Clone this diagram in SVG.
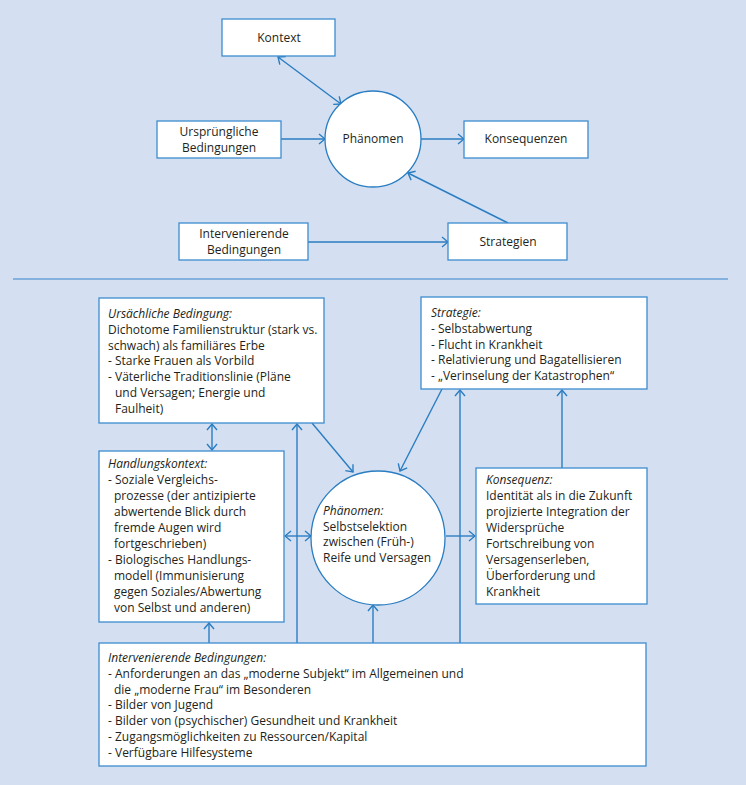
<svg xmlns="http://www.w3.org/2000/svg" width="746" height="785" viewBox="0 0 746 785">
<style>
.box{fill:#fff;stroke:#3d8dcf;stroke-width:1.3}
.con{fill:none;stroke:#2a7dc2;stroke-width:1.4}
text{font-family:"Open Sans","Noto Sans","Liberation Sans",sans-serif;font-size:12px;fill:#231f20}
.c{text-anchor:middle}
.i{font-style:italic}
</style>
<defs>
<marker id="ah" viewBox="0 0 8 12" markerWidth="8" markerHeight="12" refX="7" refY="6" orient="auto-start-reverse" markerUnits="userSpaceOnUse">
<path d="M1,1 L7,6 L1,11" fill="none" stroke="#2a7dc2" stroke-width="1.4"/>
</marker>
</defs>
<rect x="0" y="0" width="746" height="785" fill="#d4e0f1"/>
<line x1="13" y1="279" x2="728" y2="279" stroke="#6aa2d6" stroke-width="1.6"/>

<g id="connectors">
<line class="con" x1="278" y1="57" x2="341" y2="104" marker-start="url(#ah)" marker-end="url(#ah)"/>
<line class="con" x1="281" y1="139" x2="325" y2="139" marker-end="url(#ah)"/>
<line class="con" x1="421" y1="139" x2="464" y2="139" marker-end="url(#ah)"/>
<line class="con" x1="308" y1="242" x2="448" y2="242" marker-end="url(#ah)"/>
<line class="con" x1="508" y1="223" x2="408" y2="173" marker-end="url(#ah)"/>

<line class="con" x1="212" y1="424" x2="212" y2="450" marker-start="url(#ah)" marker-end="url(#ah)"/>
<line class="con" x1="297" y1="643" x2="297" y2="424" marker-end="url(#ah)"/>
<line class="con" x1="312" y1="423" x2="353" y2="472" marker-end="url(#ah)"/>
<line class="con" x1="442" y1="389" x2="400" y2="471" marker-end="url(#ah)"/>
<line class="con" x1="460" y1="643" x2="460" y2="390" marker-end="url(#ah)"/>
<line class="con" x1="562" y1="468" x2="562" y2="390" marker-end="url(#ah)"/>
<line class="con" x1="285" y1="536" x2="311" y2="536" marker-start="url(#ah)" marker-end="url(#ah)"/>
<line class="con" x1="446" y1="536" x2="475" y2="536" marker-end="url(#ah)"/>
<line class="con" x1="209" y1="643" x2="209" y2="623" marker-end="url(#ah)"/>
<line class="con" x1="373" y1="643" x2="373" y2="605" marker-end="url(#ah)"/>
</g>

<g id="kontext">
<rect class="box" x="222" y="19" width="113" height="37"/>
<text class="c" x="279" y="42">Kontext</text>
</g>
<g id="urspruengliche">
<rect class="box" x="157" y="121" width="124" height="37"/>
<text class="c" x="219" y="136">Ursprüngliche</text>
<text class="c" x="219" y="152">Bedingungen</text>
</g>
<g id="phaenomen-top">
<circle cx="373" cy="139" r="48" fill="#fff" stroke="#2a7dc2" stroke-width="1.3"/>
<text class="c" x="373" y="143">Phänomen</text>
</g>
<g id="konsequenzen">
<rect class="box" x="464" y="121" width="124" height="37"/>
<text class="c" x="526" y="143">Konsequenzen</text>
</g>
<g id="intervenierende-top">
<rect class="box" x="179" y="223" width="129" height="37"/>
<text class="c" x="244" y="238">Intervenierende</text>
<text class="c" x="244" y="254">Bedingungen</text>
</g>
<g id="strategien">
<rect class="box" x="448" y="223" width="119" height="37"/>
<text class="c" x="508" y="246">Strategien</text>
</g>

<g id="ursaechliche">
<rect class="box" x="99" y="298" width="225" height="125"/>
<text class="i" x="108" y="318">Ursächliche Bedingung:</text>
<text x="108" y="333.8">Dichotome Familienstruktur (stark vs.</text>
<text x="108" y="349.6">schwach) als familiäres Erbe</text>
<text x="108" y="365.4">- Starke Frauen als Vorbild</text>
<text x="108" y="381.2">- Väterliche Traditionslinie (Pläne</text>
<text x="115" y="397">und Versagen; Energie und</text>
<text x="115" y="412.8">Faulheit)</text>
</g>

<g id="strategie">
<rect class="box" x="421" y="297" width="226" height="92"/>
<text class="i" x="431" y="317">Strategie:</text>
<text x="431" y="332.8">- Selbstabwertung</text>
<text x="431" y="348.5">- Flucht in Krankheit</text>
<text x="431" y="364.3">- Relativierung und Bagatellisieren</text>
<text x="431" y="380">- „Verinselung der Katastrophen“</text>
</g>

<g id="handlungskontext">
<rect class="box" x="99" y="451" width="185" height="171"/>
<text class="i" x="108" y="468">Handlungskontext:</text>
<text x="108" y="484">- Soziale Vergleichs-</text>
<text x="114" y="500">prozesse (der antizipierte</text>
<text x="114" y="516">abwertende Blick durch</text>
<text x="114" y="532">fremde Augen wird</text>
<text x="114" y="548">fortgeschrieben)</text>
<text x="108" y="564">- Biologisches Handlungs-</text>
<text x="114" y="580">modell (Immunisierung</text>
<text x="114" y="596">gegen Soziales/Abwertung</text>
<text x="114" y="612">von Selbst und anderen)</text>
</g>

<g id="phaenomen">
<circle cx="378" cy="538" r="67" fill="#fff" stroke="#2a7dc2" stroke-width="1.3"/>
<text class="i" x="323" y="515">Phänomen:</text>
<text x="323" y="530.7">Selbstselektion</text>
<text x="323" y="546.3">zwischen (Früh-)</text>
<text x="323" y="562">Reife und Versagen</text>
</g>

<g id="konsequenz">
<rect class="box" x="476" y="468" width="171" height="136"/>
<text class="i" x="486" y="484">Konsequenz:</text>
<text x="486" y="500">Identität als in die Zukunft</text>
<text x="486" y="516">projizierte Integration der</text>
<text x="486" y="532">Widersprüche</text>
<text x="486" y="548">Fortschreibung von</text>
<text x="486" y="564">Versagenserleben,</text>
<text x="486" y="580">Überforderung und</text>
<text x="486" y="596">Krankheit</text>
</g>

<g id="intervenierende">
<rect class="box" x="99" y="643" width="547" height="123"/>
<text class="i" x="108" y="662">Intervenierende Bedingungen:</text>
<text x="108" y="677.8">- Anforderungen an das „moderne Subjekt“ im Allgemeinen und</text>
<text x="114" y="693.6">die „moderne Frau“ im Besonderen</text>
<text x="108" y="709.4">- Bilder von Jugend</text>
<text x="108" y="725.2">- Bilder von (psychischer) Gesundheit und Krankheit</text>
<text x="108" y="741">- Zugangsmöglichkeiten zu Ressourcen/Kapital</text>
<text x="108" y="756.8">- Verfügbare Hilfesysteme</text>
</g>
</svg>
